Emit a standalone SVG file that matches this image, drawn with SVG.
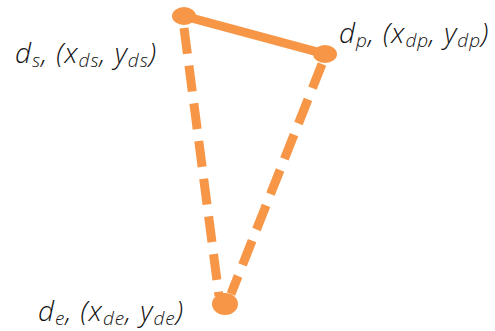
<svg xmlns="http://www.w3.org/2000/svg" width="495" height="331" viewBox="0 0 495 331">
<style>
.lbl{font-family:"Open Sans","Liberation Sans",sans-serif;font-style:italic;font-weight:300;font-size:28px;letter-spacing:1px;fill:#111}
.sub{font-size:19px}
.pt{fill:#F79646}
.edge{stroke:#F79646;stroke-width:9;fill:none}
.dash{stroke-dasharray:26 12}
</style>
<rect width="495" height="331" fill="#fff"/>
<g id="connectors">
<line class="edge" x1="184" y1="16" x2="325" y2="54"/>
<line class="edge dash" x1="184" y1="28" x2="219" y2="296"/>
<line class="edge dash" x1="322" y1="64" x2="231" y2="294"/>
</g>
<g id="ds">
<ellipse class="pt" cx="184" cy="16" rx="12" ry="9"/>
<text class="lbl" x="15" y="63">d<tspan class="sub" dy="4">s</tspan><tspan dy="-4">, (x</tspan><tspan class="sub" dy="4">ds</tspan><tspan dy="-4">, y</tspan><tspan class="sub" dy="4">ds</tspan><tspan dy="-4">)</tspan></text>
</g>
<g id="dp">
<ellipse class="pt" cx="325" cy="54" rx="12" ry="9"/>
<text class="lbl" x="339" y="43">d<tspan class="sub" dy="4">p</tspan><tspan dy="-4">, (x</tspan><tspan class="sub" dy="4">dp</tspan><tspan dy="-4">, y</tspan><tspan class="sub" dy="4">dp</tspan><tspan dy="-4">)</tspan></text>
</g>
<g id="de">
<ellipse class="pt" cx="225" cy="304" rx="13" ry="11"/>
<text class="lbl" x="38" y="321">d<tspan class="sub" dy="4">e</tspan><tspan dy="-4">, (x</tspan><tspan class="sub" dy="4">de</tspan><tspan dy="-4">, y</tspan><tspan class="sub" dy="4">de</tspan><tspan dy="-4">)</tspan></text>
</g>
</svg>
